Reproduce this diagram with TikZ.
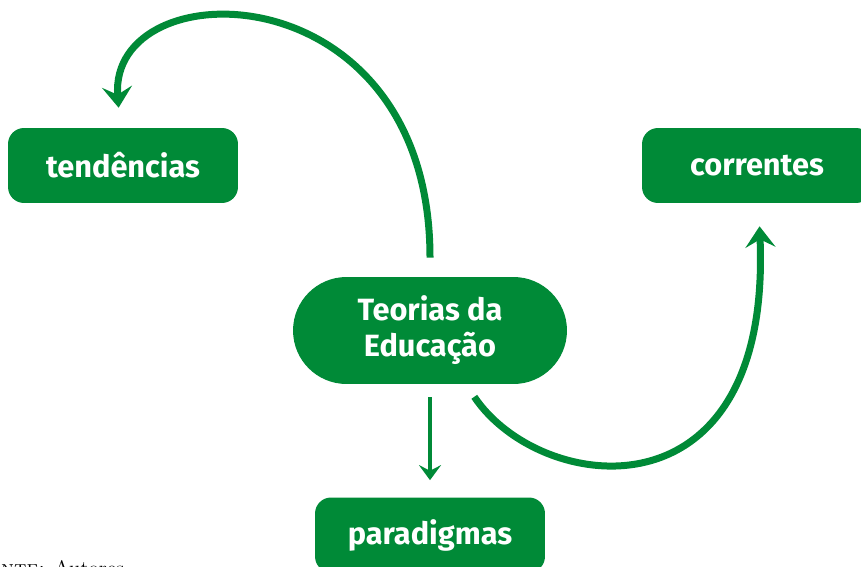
\documentclass[tikz,border=0pt]{standalone}
\usepackage{fontspec}
\setsansfont{Fira Sans}
\usepackage{xcolor}
\usetikzlibrary{arrows.meta}
\definecolor{verde}{HTML}{008A37}

\begin{document}
\begin{tikzpicture}[x=0.02cm, y=-0.02cm,
  caixa/.style={fill=verde, text=white, font=\sffamily\bfseries\fontsize{17.5}{20.5}\selectfont,
    rounded corners=0.32cm, minimum width=4.6cm, minimum height=1.5cm, inner sep=0pt, align=center},
  seta/.style={draw=verde, line width=0.14cm, -{Stealth[length=0.42cm, width=0.6cm, inset=0.16cm]}},
  setafina/.style={draw=verde, line width=0.09cm, -{Stealth[length=0.3cm, width=0.44cm, inset=0.11cm]}}]
\useasboundingbox (0,0) rectangle (861,567);
\node[caixa] (tend) at (123, 165.5) {tendências};
\node[caixa] (corr) at (757, 165.5) {correntes};
\node[caixa, minimum width=5.48cm, minimum height=2.14cm, rounded corners=1.07cm] (teo) at (430, 330.5) {Teorias da\\Educação};
\node[caixa] (para) at (430, 535) {paradigmas};
\node[anchor=base west, font=\fontsize{12}{14}\selectfont, inner sep=0pt] (fonte) at (-27, 575) {\textsc{Fonte:} Autores};
\draw[seta, shorten <=0.38cm, shorten >=0.4cm] (teo) .. controls (430,-32) and (108,-32) .. (tend);
\draw[seta, shorten <=0.3cm, shorten >=0.46cm] (teo) .. controls (540,495) and (772,525) .. (corr);
\draw[setafina, shorten <=0.26cm, shorten >=0.34cm] (teo) -- (para);
\end{tikzpicture}
\end{document}
